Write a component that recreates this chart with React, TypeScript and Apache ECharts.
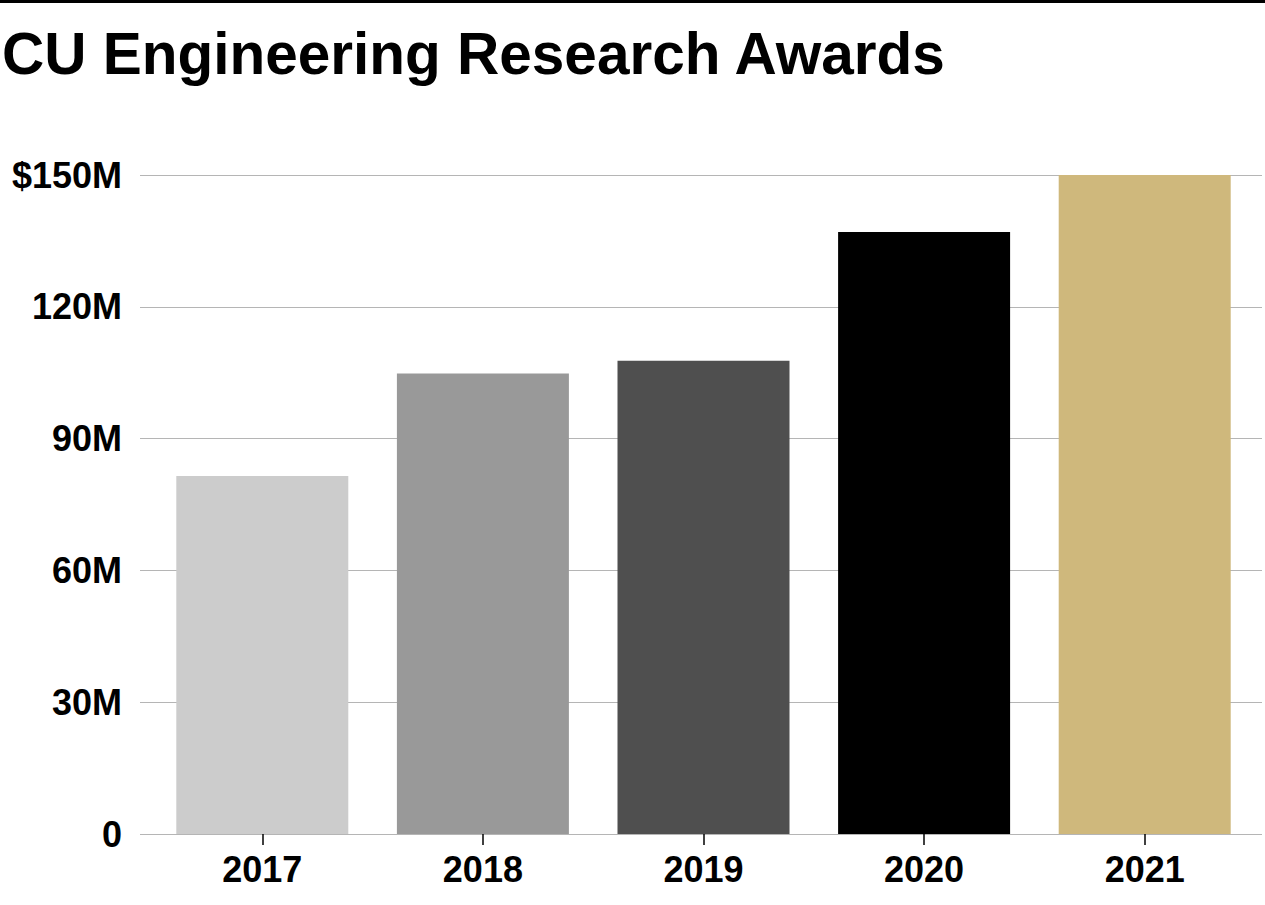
import React, { useEffect, useRef } from "react";
import * as echarts from "echarts";

const TITLE = "CU Engineering Research Awards";
const years = ["2017", "2018", "2019", "2020", "2021"];
const awards = [81.5, 104.8, 107.7, 137, 150];
const barColors = ["#cccccc", "#999999", "#4f4f4f", "#000000", "#cfb87c"];
const yMin = 0;
const yMax = 150;
const yStep = 30;

const FONT = "'Liberation Sans', Arial, Helvetica, sans-serif";

export default function App() {
  const ref = useRef<HTMLDivElement>(null);
  useEffect(() => {
    if (!ref.current) return;
    const chart = echarts.init(ref.current, null, { renderer: "svg" });
    chart.setOption({
      animation: false,
      backgroundColor: "#ffffff",
      textStyle: { fontFamily: FONT },
      graphic: [
        { type: "rect", left: 0, top: 0, shape: { width: 1265, height: 3 }, style: { fill: "#000" } },
        {
          type: "text",
          left: 2,
          top: 24,
          style: { text: TITLE, font: `bold 58.5px ${FONT}`, fill: "#000" },
        },
      ],
      grid: [
        { left: 140, right: 3, top: 175, bottom: 71 },
        { left: 152, right: 10, top: 175, bottom: 71 },
      ],
      xAxis: [
        { type: "value", gridIndex: 0, show: false, min: 0, max: 1 },
        {
          type: "category",
          gridIndex: 1,
          data: years,
          axisLine: { show: false },
          axisTick: { show: true, alignWithLabel: true, length: 11, lineStyle: { color: "#000", width: 1.5 } },
          axisLabel: { color: "#000", fontWeight: "bold", fontSize: 36, fontFamily: FONT, margin: 17 },
        },
      ],
      yAxis: [
        {
          type: "value",
          gridIndex: 0,
          min: yMin,
          max: yMax,
          interval: yStep,
          axisLine: { show: false },
          axisTick: { show: false },
          splitLine: { show: true, lineStyle: { color: "#b5b5b5", width: 1.2 } },
          axisLabel: {
            color: "#000",
            fontWeight: "bold",
            fontSize: 36,
            fontFamily: FONT,
            margin: 18,
            formatter: (v: number) => (v === 0 ? "0" : v === yMax ? `$${v}M` : `${v}M`),
          },
        },
        {
          type: "value",
          gridIndex: 1,
          min: yMin,
          max: yMax,
          interval: yStep,
          show: false,
          splitLine: { show: false },
        },
      ],
      series: [
        {
          type: "bar",
          xAxisIndex: 1,
          yAxisIndex: 1,
          barWidth: 172,
          z: 1,
          data: awards.map((v, i) => ({ value: v, itemStyle: { color: barColors[i] } })),
        },
      ],
    });
    return () => chart.dispose();
  }, []);
  return (
    <div
      ref={ref}
      style={{ position: "fixed", left: 0, top: 0, width: 1265, height: 905, background: "#fff" }}
    />
  );
}
